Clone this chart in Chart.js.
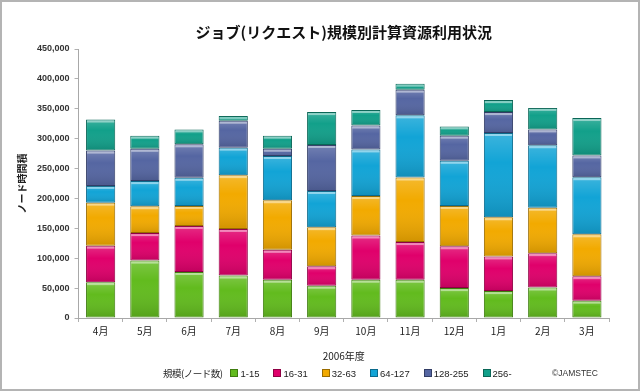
<!DOCTYPE html>
<html>
<head>
<meta charset="utf-8">
<script src="https://cdn.jsdelivr.net/npm/chart.js@4"></script>
<style>
  html, body { margin: 0; padding: 0; background: #fff; }
  #wrap { position: relative; width: 640px; height: 391px; box-sizing: border-box; border: 2px solid #b4b4b4; overflow: hidden; }
  #wrap canvas { position: absolute; left: -2px; top: -2px; }
  #legend { position: absolute; left: 161px; top: 364px; height: 14px; display: flex; align-items: center;
    font-family: "Liberation Sans", sans-serif; font-size: 9.5px; color: #222; white-space: nowrap; }
  #legend .lead { font-family: "Noto Sans CJK JP", sans-serif; font-size: 9.5px; margin-right: 8px; letter-spacing: -0.5px; }
  #legend .item { display: flex; align-items: center; margin-right: 14px; }
  #legend .box { width: 6px; height: 6px; border: 1px solid; margin-right: 2px; }
  #credit { position: absolute; left: 550px; top: 364px; height: 14px; line-height: 14px;
    font-family: "Liberation Sans", sans-serif; font-size: 8.5px; color: #333; }
</style>
</head>
<body>
<div id="wrap">
  <canvas id="myChart" width="640" height="391"></canvas>
  <div id="legend"><span class="lead">規模(ノード数)</span></div>
  <div id="credit">©JAMSTEC</div>
</div>
<script>
  const labels = ['4月', '5月', '6月', '7月', '8月', '9月', '10月', '11月', '12月', '1月', '2月', '3月'];

  const nodes1to15 = [60000, 96000, 77000, 71000, 64000, 54000, 64000, 64000, 50000, 45000, 51000, 29000];
  const nodes16to31 = [61000, 46000, 77000, 78000, 50000, 32500, 74000, 63000, 70000, 58000, 57500, 41000];
  const nodes32to63 = [72000, 45000, 33500, 90000, 83000, 65500, 66000, 108000, 67500, 65500, 76000, 70000];
  const nodes64to127 = [28000, 42000, 47000, 46000, 74000, 60500, 78000, 104000, 75500, 141000, 104500, 95500];
  const nodes128to255 = [59000, 54000, 56000, 45000, 12000, 77000, 40000, 43000, 42000, 35000, 26500, 36500];
  const nodes256 = [52000, 22000, 25000, 8000, 22000, 55000, 26000, 10000, 15500, 20000, 36000, 62500];

  const seriesNames = ['1-15', '16-31', '32-63', '64-127', '128-255', '256-'];
  const fills = ['#62bb1e', '#e0006b', '#f2aa00', '#12a4d6', '#5566a2', '#12a08a'];
  const edges = ['#3f7d10', '#8f0044', '#9a6c00', '#0b6a8c', '#323d66', '#0a6656'];
  const series = [nodes1to15, nodes16to31, nodes32to63, nodes64to127, nodes128to255, nodes256];

  const jp = '"Noto Sans CJK JP", sans-serif';

  // glossy look on every bar segment
  const shine = {
    id: 'shine',
    afterDatasetsDraw(chart) {
      const ctx = chart.ctx;
      chart.data.datasets.forEach((ds, i) => {
        chart.getDatasetMeta(i).data.forEach(bar => {
          const p = bar.getProps(['x', 'y', 'base', 'width'], true);
          const left = p.x - p.width / 2;
          const top = Math.min(p.y, p.base);
          const h = Math.abs(p.base - p.y);
          if (h < 2) return;
          const g = ctx.createLinearGradient(0, top, 0, top + h);
          g.addColorStop(0, 'rgba(255,255,255,0.18)');
          g.addColorStop(0.35, 'rgba(255,255,255,0)');
          g.addColorStop(1, 'rgba(0,0,0,0.14)');
          ctx.save();
          ctx.fillStyle = g;
          ctx.fillRect(left + 1, top + 1, p.width - 2, h - 2);
          ctx.fillStyle = 'rgba(255,255,255,0.45)';
          ctx.fillRect(left + 1, top + 1, p.width - 2, 2);
          ctx.restore();
        });
      });
    }
  };

  const data = {
    labels: labels,
    datasets: series.map((values, i) => ({
      label: seriesNames[i],
      data: values,
      backgroundColor: fills[i],
      borderColor: edges[i],
      borderWidth: 1,
      borderSkipped: false,
      categoryPercentage: 1,
      barPercentage: 0.66
    }))
  };

  const config = {
    type: 'bar',
    data: data,
    plugins: [shine],
    options: {
      responsive: false,
      animation: false,
      layout: { padding: { left: 12, right: 31, top: 0, bottom: 29 } },
      plugins: {
        legend: { display: false },
        tooltip: { enabled: false },
        title: {
          display: true,
          fullSize: false,
          text: 'ジョブ(リクエスト)規模別計算資源利用状況',
          color: '#111',
          font: { family: jp, size: 15, weight: 'bold' },
          padding: { top: 23, bottom: 8 }
        }
      },
      scales: {
        x: {
          stacked: true,
          grid: { display: true, drawOnChartArea: false, offset: true, tickLength: 4, color: '#b0b0b0' },
          border: { color: '#a8a8a8' },
          ticks: { color: '#222', font: { family: jp, size: 10 }, padding: 3 },
          title: {
            display: true, text: '2006年度', color: '#222',
            font: { family: jp, size: 10 }, padding: { top: 10, bottom: 0 }
          }
        },
        y: {
          stacked: true,
          min: 0,
          max: 450000,
          grid: { display: true, drawOnChartArea: false, tickLength: 4, color: '#b0b0b0' },
          border: { color: '#a8a8a8' },
          ticks: {
            stepSize: 50000,
            color: '#333',
            padding: 5,
            font: { family: '"Liberation Sans", sans-serif', size: 9, weight: 'bold' },
            callback: v => v.toLocaleString('en-US')
          },
          title: {
            display: true, text: 'ノード時間積', color: '#222',
            font: { family: jp, size: 10, weight: 'bold' }, padding: { top: 4, bottom: 4 }
          }
        }
      }
    }
  };

  const myChart = new Chart(document.getElementById('myChart'), config);

  // legend row built from the same series
  const legend = document.getElementById('legend');
  seriesNames.forEach((name, i) => {
    const item = document.createElement('span');
    item.className = 'item';
    const box = document.createElement('span');
    box.className = 'box';
    box.style.background = fills[i];
    box.style.borderColor = edges[i];
    const txt = document.createElement('span');
    txt.textContent = name;
    item.appendChild(box);
    item.appendChild(txt);
    legend.appendChild(item);
  });
</script>
</body>
</html>
